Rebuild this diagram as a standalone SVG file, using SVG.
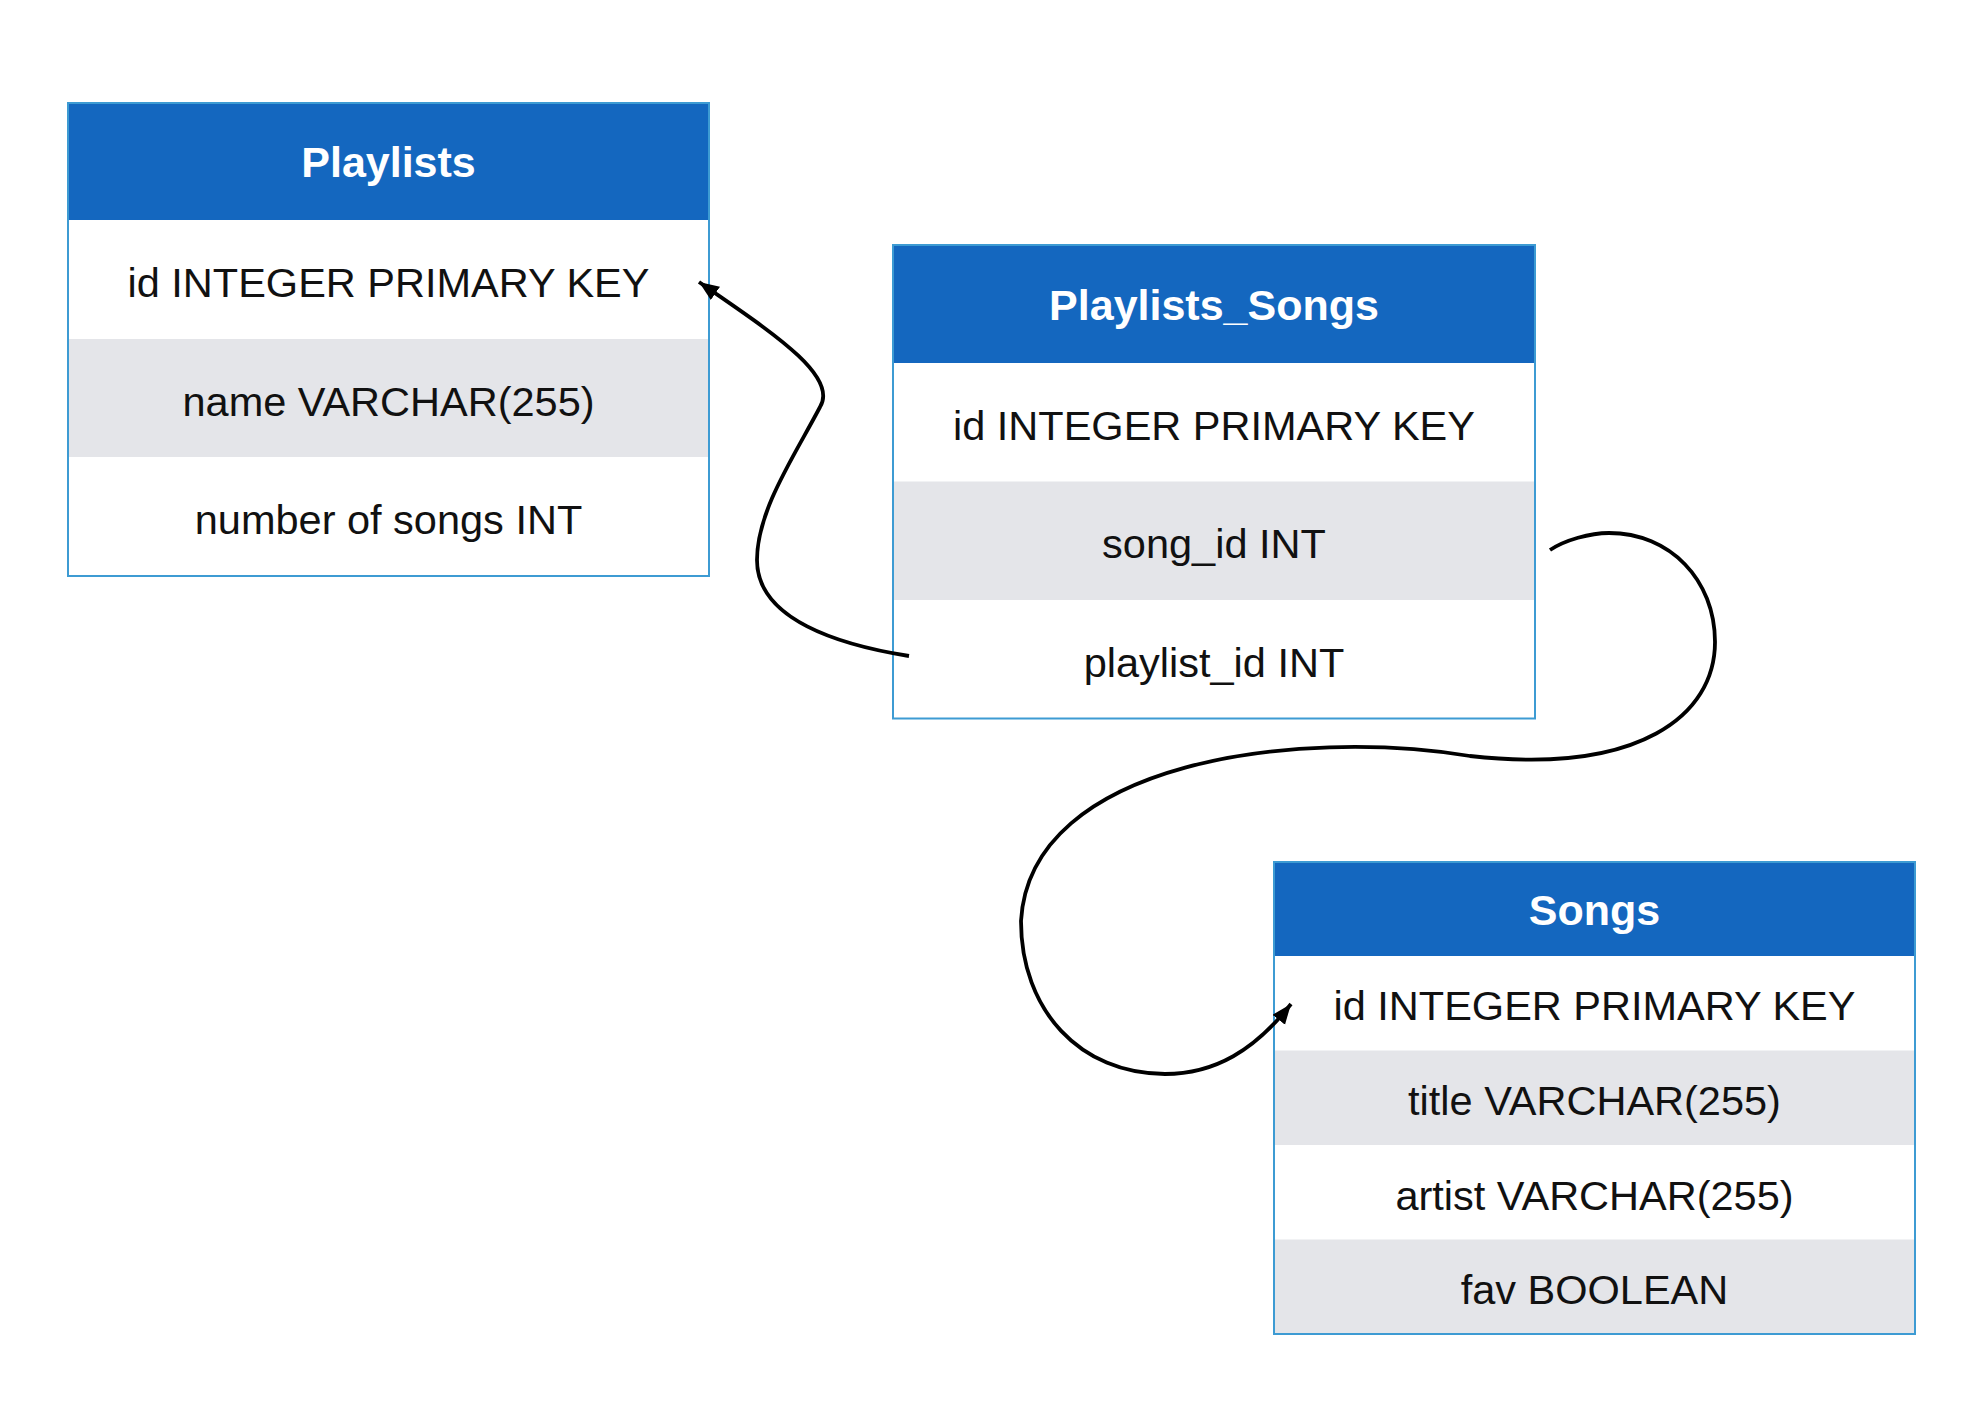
<svg xmlns="http://www.w3.org/2000/svg" width="1962" height="1410" viewBox="0 0 1962 1410">
<style>
.hdr{fill:#1467bf}
.alt{fill:#e4e5e9}
.frame{fill:none;stroke:#3d9bd3;stroke-width:2}
.ht{font-family:"Liberation Sans",Arial,sans-serif;font-weight:bold;font-size:43px;fill:#ffffff;text-anchor:middle}
.rt{font-family:"Liberation Sans",Arial,sans-serif;font-size:41.5px;fill:#111111;text-anchor:middle}
.conn{fill:none;stroke:#000000;stroke-width:3.8}
</style>
<defs>
<marker id="arr" markerUnits="userSpaceOnUse" markerWidth="22" markerHeight="18" refX="20" refY="8" orient="auto">
<path d="M0,0 L20,8 L0,16 z" fill="#000000"/>
</marker>
</defs>
<rect width="1962" height="1410" fill="#ffffff"/>
<g id="playlists">
<rect x="68" y="103" width="641" height="473" fill="#ffffff"/>
<rect class="hdr" x="68" y="103" width="641" height="117"/>
<rect class="alt" x="68" y="339" width="641" height="118"/>
<rect class="frame" x="68" y="103" width="641" height="473"/>
<text class="ht" x="388.5" y="177">Playlists</text>
<text class="rt" x="388.5" y="297">id INTEGER PRIMARY KEY</text>
<text class="rt" x="388.5" y="415.5">name VARCHAR(255)</text>
<text class="rt" x="388.5" y="534">number of songs INT</text>
</g>
<g id="playlists_songs">
<rect x="893" y="245" width="642" height="473.5" fill="#ffffff"/>
<rect class="hdr" x="893" y="245" width="642" height="118"/>
<rect class="alt" x="893" y="481.5" width="642" height="118.5"/>
<rect class="frame" x="893" y="245" width="642" height="473.5"/>
<text class="ht" x="1214" y="319.5">Playlists_Songs</text>
<text class="rt" x="1214" y="439.5">id INTEGER PRIMARY KEY</text>
<text class="rt" x="1214" y="558">song_id INT</text>
<text class="rt" x="1214" y="676.5">playlist_id INT</text>
</g>
<g id="songs">
<rect x="1274" y="862" width="641" height="472" fill="#ffffff"/>
<rect class="hdr" x="1274" y="862" width="641" height="94"/>
<rect class="alt" x="1274" y="1050.5" width="641" height="94.5"/>
<rect class="alt" x="1274" y="1239.5" width="641" height="94.5"/>
<rect class="frame" x="1274" y="862" width="641" height="472"/>
<text class="ht" x="1594.5" y="924.5">Songs</text>
<text class="rt" x="1594.5" y="1020">id INTEGER PRIMARY KEY</text>
<text class="rt" x="1594.5" y="1115">title VARCHAR(255)</text>
<text class="rt" x="1594.5" y="1209.5">artist VARCHAR(255)</text>
<text class="rt" x="1594.5" y="1304">fav BOOLEAN</text>
</g>
<g id="connectors">
<path class="conn" marker-end="url(#arr)" d="M 909 656 C 840 645, 757 620, 757 560 C 757 510, 795 455, 820 407 C 840 375, 765 328, 699 282"/>
<path class="conn" marker-end="url(#arr)" d="M 1550 550 C 1565 540, 1590 533, 1609 533 C 1670 533, 1715 580, 1715 642 C 1715 715, 1640 775, 1470 756 C 1300 728, 1030 760, 1021 921 C 1021 1010, 1080 1074, 1165 1074 C 1215 1074, 1255 1050, 1291 1004"/>
</g>
</svg>
